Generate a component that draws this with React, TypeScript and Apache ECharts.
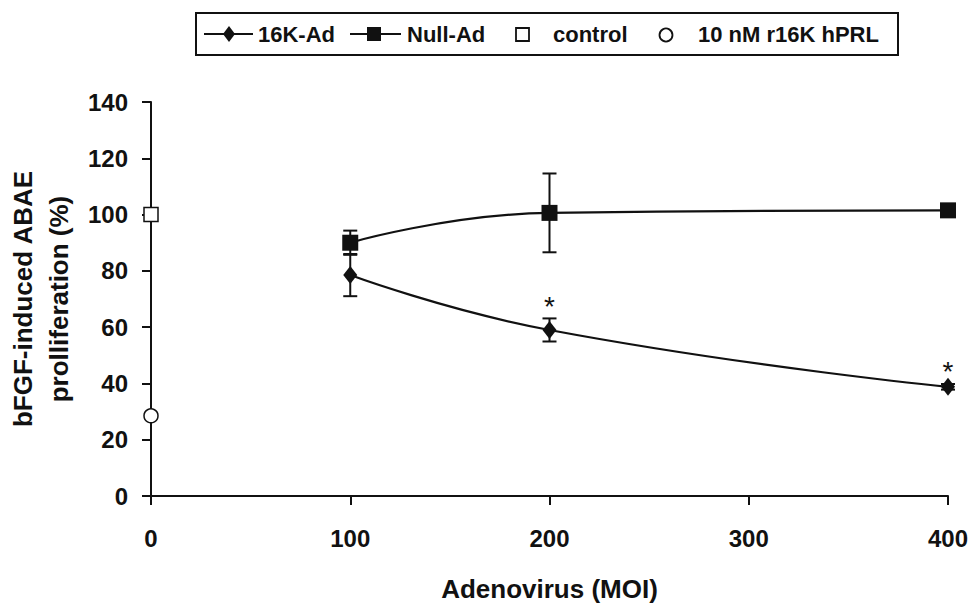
import React, { useEffect, useRef } from "react";
import * as echarts from "echarts";

// ---- data ----
const moi = [100, 200, 400];
const k16Mean = [78.5, 59, 38.8];
const k16Sd = [7.5, 4.1, 1];
const nullMean = [90, 100.6, 101.5];
const nullSd = [4.3, 14, 1.2];
const controlPoint = [0, 100];
const r16kPoint = [0, 28.5];
const significantMoi = [200, 400];

const xTicks = { min: 0, max: 400, interval: 100 };
const yTicks = { min: 0, max: 140, interval: 20 };

const FONT = '"Liberation Sans", Arial, Helvetica, sans-serif';
const INK = "#111";

export default function App() {
  const ref = useRef<HTMLDivElement>(null);

  useEffect(() => {
    document.body.style.margin = "0";
    if (!ref.current) return;
    const chart = echarts.init(ref.current, undefined, { renderer: "svg" });

    const k16Line = moi.map((m, i) => [m, k16Mean[i]]);
    const nullLine = moi.map((m, i) => [m, nullMean[i]]);
    const errData = [
      ...moi.map((m, i) => [m, k16Mean[i] - k16Sd[i], k16Mean[i] + k16Sd[i]]),
      ...moi.map((m, i) => [m, nullMean[i] - nullSd[i], nullMean[i] + nullSd[i]]),
    ];
    const starData = significantMoi.map((m) => {
      const i = moi.indexOf(m);
      return [m, k16Mean[i] + k16Sd[i]];
    });

    const legendY = 34;
    const legendText = (x: number, text: string) => ({
      type: "text",
      x,
      y: legendY,
      style: {
        text,
        font: `bold 22px ${FONT}`,
        fill: INK,
        textAlign: "left",
        textVerticalAlign: "middle",
      },
    });

    const option: any = {
      animation: false,
      backgroundColor: "#fff",
      grid: {
        left: 151,
        right: 23,
        top: 102,
        bottom: 108,
        containLabel: false,
        outerBoundsMode: "none",
      },
      xAxis: {
        type: "value",
        ...xTicks,
        name: "Adenovirus (MOI)",
        nameLocation: "middle",
        nameGap: 80,
        nameTextStyle: { fontFamily: FONT, fontWeight: "bold", fontSize: 26, color: INK },
        axisLine: { show: true, lineStyle: { color: INK, width: 2 } },
        axisTick: { show: true, length: 9, lineStyle: { color: INK, width: 2 } },
        axisLabel: { fontFamily: FONT, fontWeight: "bold", fontSize: 24, color: INK, margin: 30 },
        splitLine: { show: false },
      },
      yAxis: {
        type: "value",
        ...yTicks,
        name: "bFGF-induced ABAE\nprolliferation (%)",
        nameLocation: "middle",
        nameGap: 74,
        nameTextStyle: {
          fontFamily: FONT,
          fontWeight: "bold",
          fontSize: 26,
          color: INK,
          lineHeight: 36,
        },
        axisLine: { show: true, lineStyle: { color: INK, width: 2 } },
        axisTick: { show: true, length: 9, lineStyle: { color: INK, width: 2 } },
        axisLabel: { fontFamily: FONT, fontWeight: "bold", fontSize: 24, color: INK, margin: 23 },
        splitLine: { show: false },
      },
      series: [
        {
          type: "custom",
          name: "err",
          data: errData,
          z: 1,
          clip: false,
          renderItem: (params: any, api: any) => {
            const x = api.value(0);
            const lo = api.coord([x, api.value(1)]);
            const hi = api.coord([x, api.value(2)]);
            const w = 7;
            const style = { stroke: INK, lineWidth: 2 };
            return {
              type: "group",
              children: [
                { type: "line", shape: { x1: lo[0], y1: lo[1], x2: hi[0], y2: hi[1] }, style },
                { type: "line", shape: { x1: hi[0] - w, y1: hi[1], x2: hi[0] + w, y2: hi[1] }, style },
                { type: "line", shape: { x1: lo[0] - w, y1: lo[1], x2: lo[0] + w, y2: lo[1] }, style },
              ],
            };
          },
        },
        {
          type: "line",
          name: "16K-Ad",
          data: k16Line,
          smooth: 0.5,
          symbol: "diamond",
          symbolSize: [14, 18],
          showAllSymbol: true,
          lineStyle: { color: INK, width: 2.2 },
          itemStyle: { color: INK },
          z: 3,
        },
        {
          type: "line",
          name: "Null-Ad",
          data: nullLine,
          smooth: 0.5,
          symbol: "rect",
          symbolSize: 16,
          showAllSymbol: true,
          lineStyle: { color: INK, width: 2.2 },
          itemStyle: { color: INK },
          z: 3,
        },
        {
          type: "scatter",
          name: "control",
          data: [controlPoint],
          symbol: "rect",
          symbolSize: 14,
          itemStyle: { color: "#fff", borderColor: INK, borderWidth: 1.5, opacity: 1 },
          z: 4,
        },
        {
          type: "scatter",
          name: "10 nM r16K hPRL",
          data: [r16kPoint],
          symbol: "circle",
          symbolSize: 14,
          itemStyle: { color: "#fff", borderColor: INK, borderWidth: 1.5, opacity: 1 },
          z: 4,
        },
        {
          type: "custom",
          name: "significance",
          data: starData,
          z: 5,
          clip: false,
          renderItem: (params: any, api: any) => {
            const p = api.coord([api.value(0), api.value(1)]);
            return {
              type: "text",
              x: p[0],
              y: p[1] + 2,
              style: {
                text: "*",
                font: `28px ${FONT}`,
                fill: INK,
                textAlign: "center",
                textVerticalAlign: "bottom",
              },
            };
          },
        },
      ],
      graphic: [
        {
          type: "rect",
          shape: { x: 196, y: 13, width: 702, height: 42 },
          style: { fill: "#fff", stroke: INK, lineWidth: 2 },
        },
        { type: "line", shape: { x1: 204, y1: legendY, x2: 253, y2: legendY }, style: { stroke: INK, lineWidth: 2 } },
        {
          type: "polygon",
          shape: { points: [[229, legendY - 8], [235, legendY], [229, legendY + 8], [223, legendY]] },
          style: { fill: INK },
        },
        legendText(258, "16K-Ad"),
        { type: "line", shape: { x1: 350, y1: legendY, x2: 401, y2: legendY }, style: { stroke: INK, lineWidth: 2 } },
        { type: "rect", shape: { x: 367, y: legendY - 7, width: 14, height: 14 }, style: { fill: INK } },
        legendText(407, "Null-Ad"),
        {
          type: "rect",
          shape: { x: 516, y: legendY - 6, width: 13, height: 13 },
          style: { fill: "#fff", stroke: INK, lineWidth: 1.8 },
        },
        legendText(553, "control"),
        {
          type: "circle",
          shape: { cx: 666, cy: legendY + 1, r: 6.5 },
          style: { fill: "#fff", stroke: INK, lineWidth: 1.8 },
        },
        legendText(698, "10 nM r16K hPRL"),
      ],
    };

    chart.setOption(option);
    return () => chart.dispose();
  }, []);

  return <div ref={ref} style={{ width: 971, height: 604 }} />;
}
